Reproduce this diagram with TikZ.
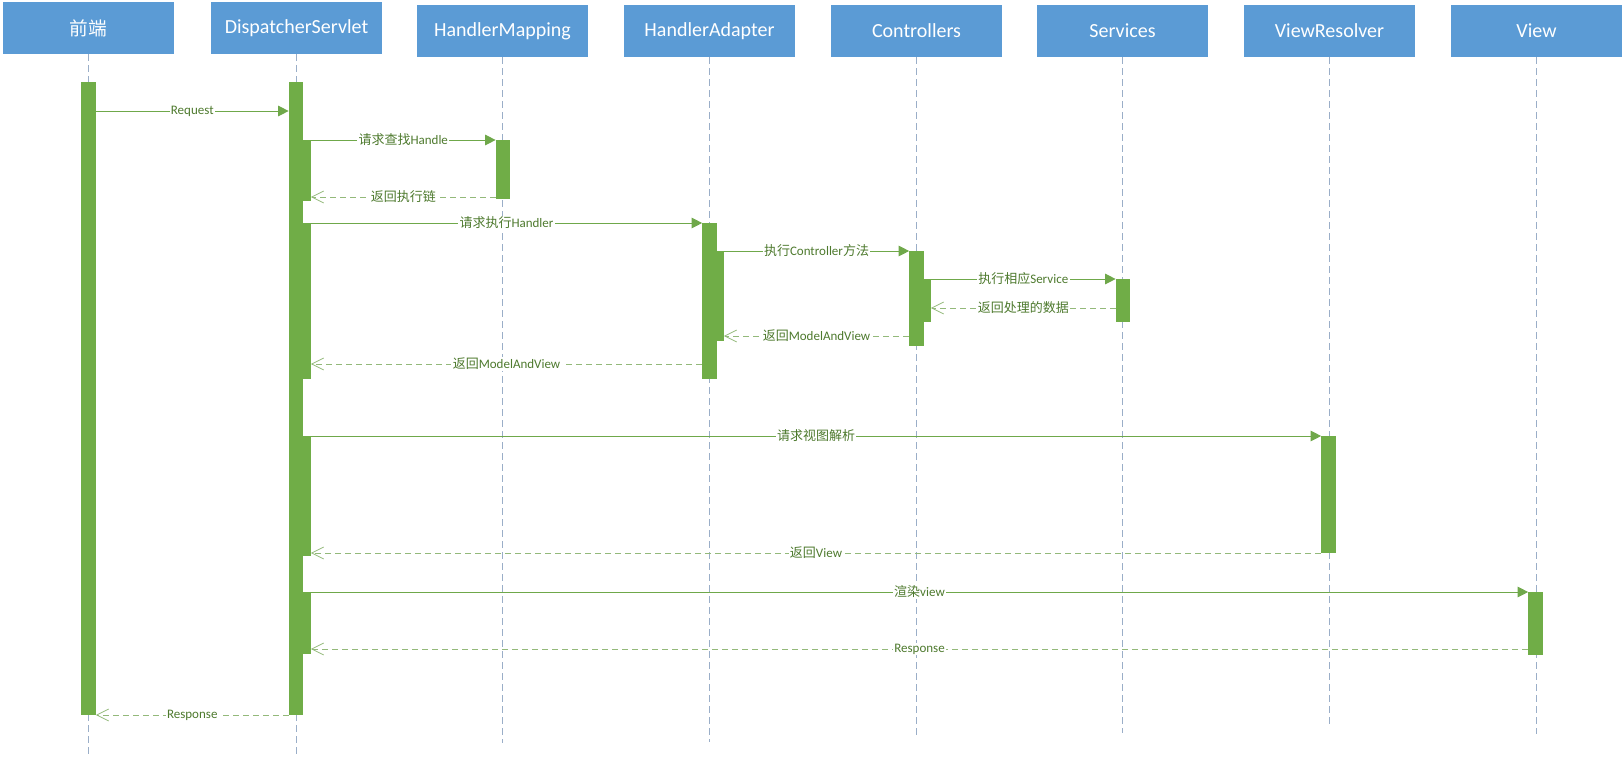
\documentclass[tikz,border=0pt]{standalone}
\usepackage{fontspec}
\setmainfont{Carlito}
\newfontfamily\cjk{Noto Sans CJK SC}
\usetikzlibrary{arrows.meta}
\definecolor{hdrblue}{HTML}{5B9BD5}
\definecolor{bargreen}{HTML}{70AD47}
\definecolor{callgreen}{HTML}{6FA84A}
\definecolor{retgreen}{HTML}{93B97A}
\definecolor{lblgreen}{HTML}{4E7A2E}
\definecolor{lifegray}{HTML}{9AAEC8}
\newcommand\actbar[4]{\node[actbarstyle, minimum height={(#4-#3)*0.75pt}] (#1) at (#2,#3) {};}
\begin{document}
\begin{tikzpicture}[x=0.75pt,y=-0.75pt,
  hdr/.style={fill=hdrblue, text=white, minimum width=128.25pt, minimum height=39pt, inner sep=0pt, font=\fontsize{15}{18}\selectfont},
  actbarstyle/.style={fill=bargreen, draw=none, minimum width=11pt, inner sep=0pt, outer sep=0pt, anchor=north},
  life/.style={draw=lifegray, line width=0.75pt, dash pattern=on 5.25pt off 3pt},
  call/.style={draw=callgreen, line width=0.75pt, -{Triangle[length=8pt,width=8pt]}},
  ret/.style={draw=retgreen, line width=0.75pt, dash pattern=on 4.5pt off 3pt, -{Straight Barb[length=9pt,width=9pt,line width=0.6pt]}},
  lbl/.style={fill=white, text=lblgreen, inner xsep=1pt, inner ysep=0.5pt, font=\fontsize{9.75}{11}\selectfont},
]
\useasboundingbox (0,0) rectangle (1624,757);

% headers
\node[hdr, font=\cjk\fontsize{14}{16}\selectfont] (hfe) at (88,28) {前端};
\node[hdr] (hds) at (296.5,28) {DispatcherServlet};
\node[hdr] (hhm) at (502.5,31) {HandlerMapping};
\node[hdr] (hha) at (709.5,31) {HandlerAdapter};
\node[hdr] (hct) at (916.5,31) {Controllers};
\node[hdr] (hsv) at (1122.5,31) {Services};
\node[hdr] (hvr) at (1329.5,31) {ViewResolver};
\node[hdr] (hvw) at (1536.5,31) {View};

% lifelines
\draw[life] (hfe.south) -- (hfe.south |- 0,757);
\draw[life] (hds.south) -- (hds.south |- 0,757);
\draw[life] (hhm.south) -- (hhm.south |- 0,743);
\draw[life] (hha.south) -- (hha.south |- 0,742);
\draw[life] (hct.south) -- (hct.south |- 0,735);
\draw[life] (hsv.south) -- (hsv.south |- 0,733);
\draw[life] (hvr.south) -- (hvr.south |- 0,727);
\draw[life] (hvw.south) -- (hvw.south |- 0,734);

% activation bars
\actbar{fe}{88.5}{82}{715}
\actbar{ds0}{296}{82}{715}
\actbar{ds1}{303.5}{140}{201}
\actbar{ds2}{303.5}{223}{379}
\actbar{ds3}{303.5}{436}{556}
\actbar{ds4}{303.5}{592}{654}
\actbar{hm}{503}{140}{199}
\actbar{ha0}{709.5}{223}{379}
\actbar{ha1}{716.5}{251}{341}
\actbar{ct0}{916.5}{251}{346}
\actbar{ct1}{923.5}{279}{322}
\actbar{sv}{1123}{279}{322}
\actbar{vr}{1328.5}{436}{553}
\actbar{vw}{1535.5}{592}{655}

% messages
\draw[call] (fe.east |- 0,111) -- node[lbl] {Request} (ds0.west |- 0,111);
\draw[call] (ds1.north east) -- node[lbl] {{\cjk 请求查找}Handle} (hm.north west);
\draw[ret] (hm.west |- 0,197) -- node[lbl] {\cjk 返回执行链} (ds1.east |- 0,197);
\draw[call] (ds2.north east) -- node[lbl] {{\cjk 请求执行}Handler} (ha0.north west);
\draw[call] (ha1.north east) -- node[lbl] {{\cjk 执行}Controller{\cjk 方法}} (ct0.north west);
\draw[call] (ct1.north east) -- node[lbl] {{\cjk 执行相应}Service} (sv.north west);
\draw[ret] (sv.west |- 0,308) -- node[lbl] {\cjk 返回处理的数据} (ct1.east |- 0,308);
\draw[ret] (ct0.west |- 0,336) -- node[lbl] {{\cjk 返回}ModelAndView} (ha1.east |- 0,336);
\draw[ret] (ha0.west |- 0,364) -- node[lbl] {{\cjk 返回}ModelAndView} (ds2.east |- 0,364);
\draw[call] (ds3.north east) -- node[lbl] {\cjk 请求视图解析} (vr.north west);
\draw[ret] (vr.south west) -- node[lbl] {{\cjk 返回}View} (ds3.east |- vr.south);
\draw[call] (ds4.north east) -- node[lbl] {{\cjk 渲染}view} (vw.north west);
\draw[ret] (vw.west |- 0,649) -- node[lbl] {Response} (ds4.east |- 0,649);
\draw[ret] (ds0.south west) -- node[lbl] {Response} (fe.south east);
\end{tikzpicture}
\end{document}
